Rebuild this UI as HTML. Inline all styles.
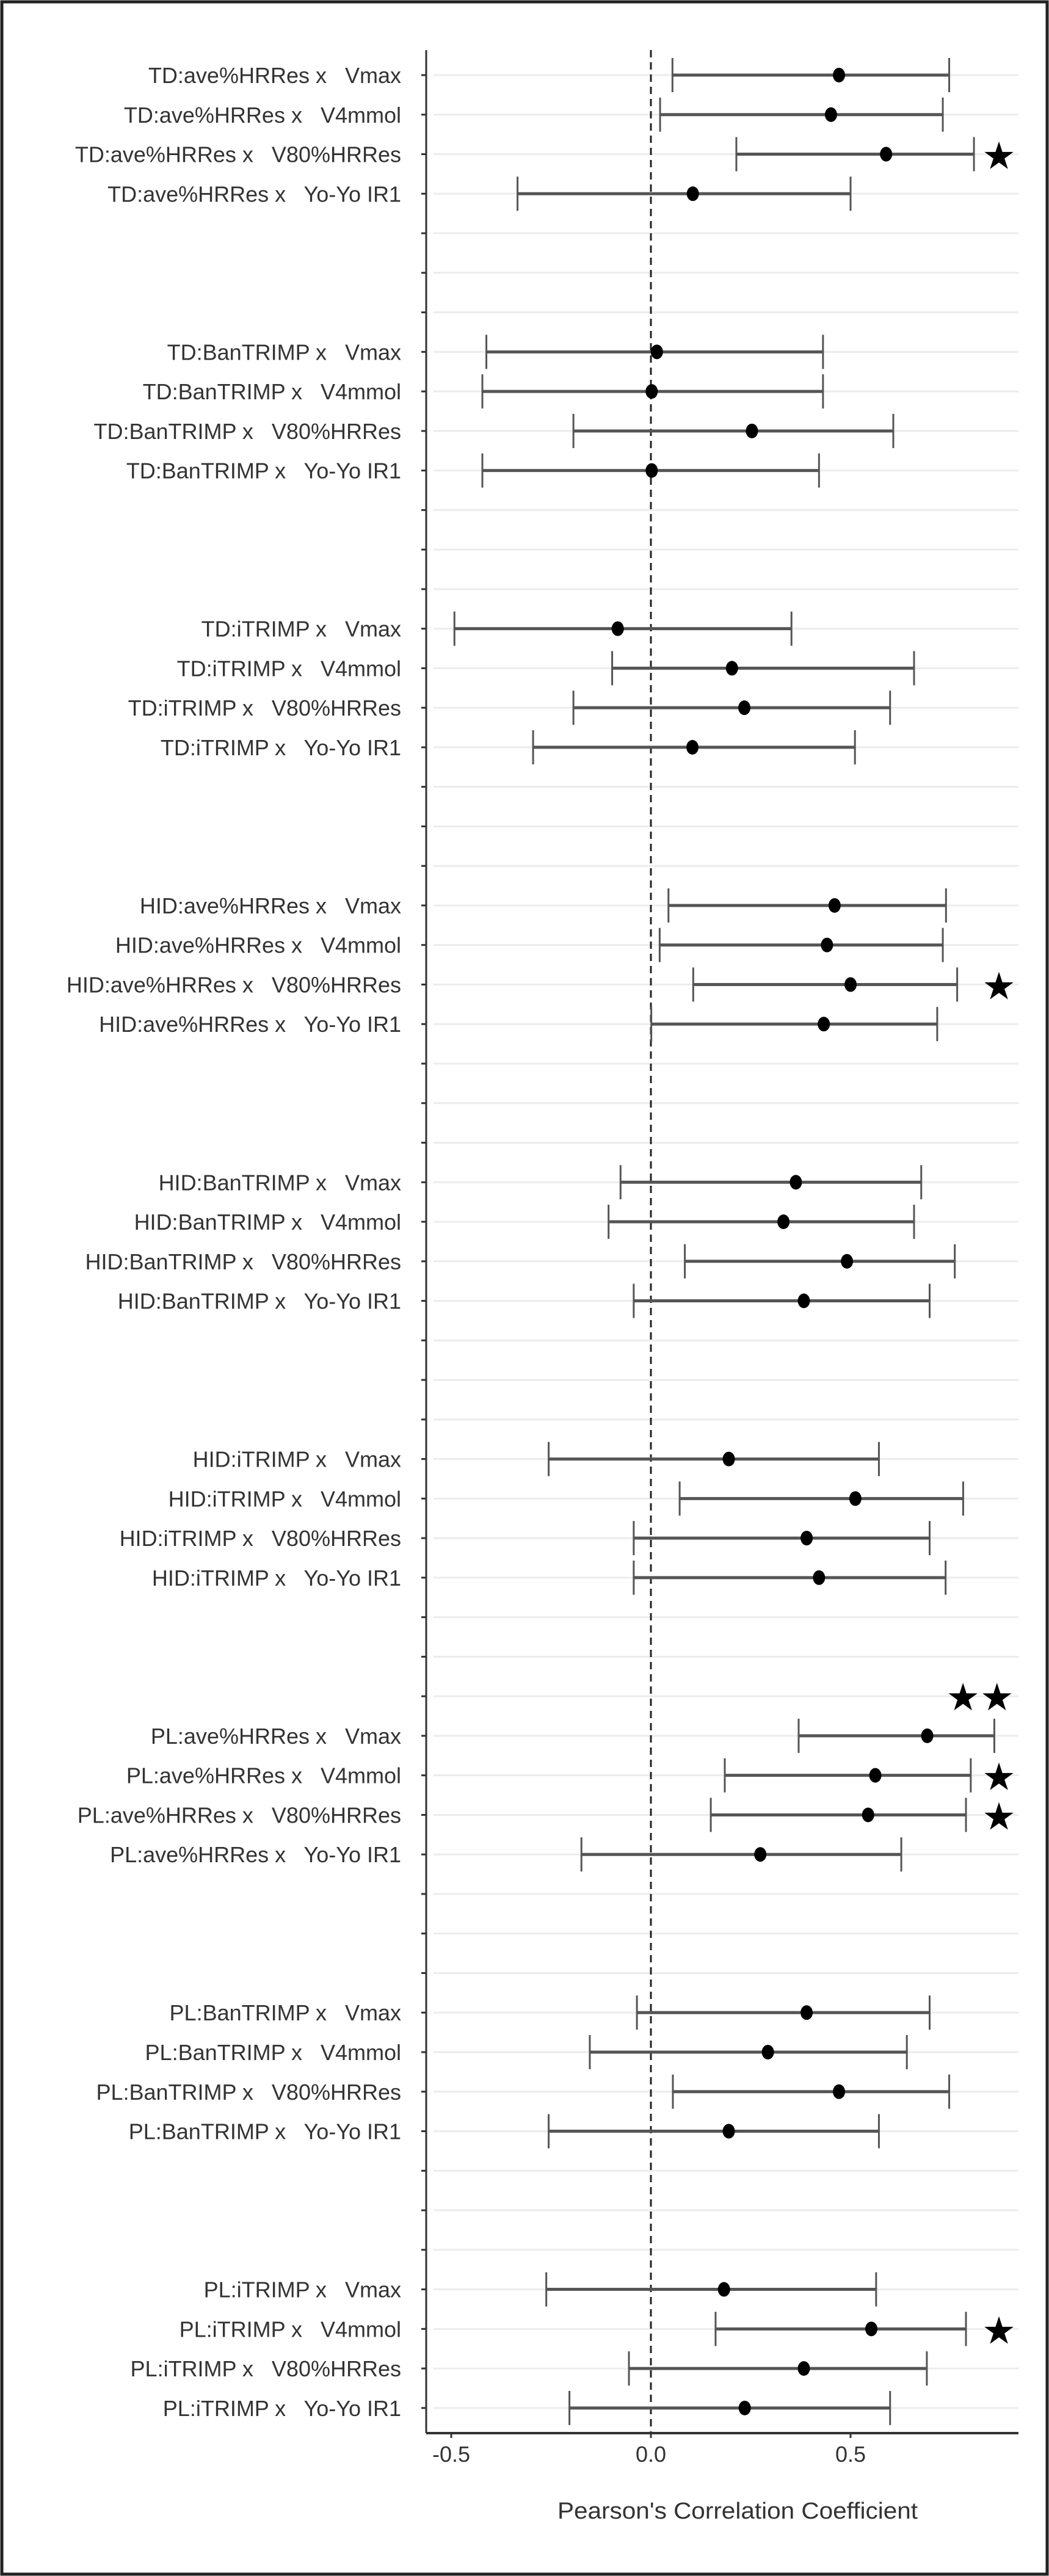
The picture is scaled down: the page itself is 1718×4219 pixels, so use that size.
<!DOCTYPE html>
<html><head><meta charset="utf-8"><style>
html,body{margin:0;padding:0;background:#fff;}
svg{display:block;font-family:"Liberation Sans",Arial,sans-serif;}
</style></head><body>
<svg id="chart" width="1718" height="4219" viewBox="0 0 1718 4219" xmlns="http://www.w3.org/2000/svg">
<rect x="3" y="3" width="1712" height="4213" fill="#fff" stroke="#222" stroke-width="5"/>
<g id="grid"></g><g id="marks"></g><g id="axes"></g>
<text x="1208" y="4125" font-size="38" fill="#333" text-anchor="middle" textLength="590" lengthAdjust="spacingAndGlyphs">Pearson's Correlation Coefficient</text>
</svg>
<script>
const groups = ["TD:ave%HRRes","TD:BanTRIMP","TD:iTRIMP","HID:ave%HRRes","HID:BanTRIMP","HID:iTRIMP","PL:ave%HRRes","PL:BanTRIMP","PL:iTRIMP"];
const outcomes = ["Vmax","V4mmol","V80%HRRes","Yo-Yo IR1"];
const estimates = [
 0.471,0.451,0.589,0.105,
 0.015,0.002,0.253,0.002,
 -0.083,0.203,0.234,0.104,
 0.460,0.441,0.500,0.433,
 0.363,0.332,0.491,0.383,
 0.195,0.512,0.390,0.421,
 0.692,0.562,0.544,0.274,
 0.390,0.293,0.471,0.195,
 0.183,0.552,0.383,0.235];
const lower = [
 0.054,0.023,0.214,-0.334,
 -0.412,-0.422,-0.194,-0.422,
 -0.492,-0.097,-0.194,-0.295,
 0.044,0.022,0.106,0.001,
 -0.076,-0.106,0.085,-0.043,
 -0.256,0.072,-0.043,-0.043,
 0.370,0.185,0.150,-0.174,
 -0.035,-0.153,0.055,-0.256,
 -0.262,0.162,-0.055,-0.204];
const upper = [
 0.747,0.731,0.809,0.500,
 0.431,0.431,0.607,0.421,
 0.352,0.659,0.599,0.511,
 0.739,0.731,0.767,0.717,
 0.677,0.659,0.761,0.698,
 0.571,0.782,0.698,0.738,
 0.860,0.801,0.789,0.627,
 0.698,0.641,0.747,0.571,
 0.564,0.789,0.691,0.599];
const stars = [
 0,0,1,0, 0,0,0,0, 0,0,0,0, 0,0,1,0, 0,0,0,0, 0,0,0,0, 2,1,1,0, 0,0,0,0, 0,1,0,0];
const xTicks = [-0.5,0.0,0.5];
const xTickLabels = ["-0.5","0.0","0.5"];

const NS="http://www.w3.org/2000/svg";
const X0=1066, XS=654, Y0=123, YS=64.76, NROWS=60;
const AXL=698, AXR=1668, AXB=3985, AXT=82;
function xScale(v){return X0+XS*v;}
function rowIndex(i){return Math.floor(i/4)*7+(i%4);}
function yScale(r){return Y0+YS*r;}
function el(tag,attrs,parent){const e=document.createElementNS(NS,tag);for(const k in attrs)e.setAttribute(k,attrs[k]);parent.appendChild(e);return e;}
const grid=document.getElementById('grid'),marks=document.getElementById('marks'),axes=document.getElementById('axes');

for(let r=0;r<NROWS;r++){
  const y=yScale(r);
  const g=el('line',{x1:AXL+12,x2:AXR,y1:y,y2:y,stroke:'#ececec','stroke-width':3},grid);
  
  
  const t=el('line',{x1:AXL-8,x2:AXL,y1:y,y2:y,stroke:'#333','stroke-width':3},axes);
  
  
}
const zl=el('line',{x1:xScale(0),x2:xScale(0),y1:AXT,y2:AXB,stroke:'#222','stroke-width':3,'stroke-dasharray':'12,8'},grid);



estimates.forEach((v,i)=>{
  const r=rowIndex(i), y=yScale(r);
  const g=el('g',{},marks);
  
  
  const x1=xScale(lower[i]),x2=xScale(upper[i]);
  el('line',{x1:x1,x2:x2,y1:y,y2:y,stroke:'#555','stroke-width':5},g);
  el('line',{x1:x1,x2:x1,y1:y-28,y2:y+28,stroke:'#555','stroke-width':3},g);
  el('line',{x1:x2,x2:x2,y1:y-28,y2:y+28,stroke:'#555','stroke-width':3},g);
  const c=el('ellipse',{cx:xScale(v),cy:y,rx:10,ry:12,fill:'#000'},marks);
  
  
  const lab=el('text',{x:657,y:y+13,'font-size':36,fill:'#333','text-anchor':'end','xml:space':'preserve'},axes);
  
  
  lab.setAttribute('style','white-space:pre');
  lab.textContent=groups[Math.floor(i/4)]+' x   '+outcomes[i%4];
  if(stars[i]===1){
    const s=el('text',{x:1636,y:y+24,'font-size':62,'text-anchor':'middle',fill:'#000'},marks);
    
    
    s.textContent='★';
  } else if(stars[i]===2){
    const s=el('text',{x:1605,y:y-42,'font-size':62,'text-anchor':'middle',fill:'#000'},marks);
    
    
    s.textContent='★★';
  }
});

const ya=el('line',{x1:AXL,x2:AXL,y1:AXT,y2:AXB,stroke:'#333','stroke-width':3},axes);


const xa=el('line',{x1:AXL,x2:AXR,y1:AXB,y2:AXB,stroke:'#333','stroke-width':4},axes);


xTicks.forEach((v,i)=>{
  const t=el('line',{x1:xScale(v),x2:xScale(v),y1:AXB,y2:AXB+8,stroke:'#333','stroke-width':3},axes);
  
  
  const l=el('text',{x:xScale(v),y:4032,'font-size':36,fill:'#333','text-anchor':'middle'},axes);
  
  
  l.textContent=xTickLabels[i];
});
</script>
</body></html>
